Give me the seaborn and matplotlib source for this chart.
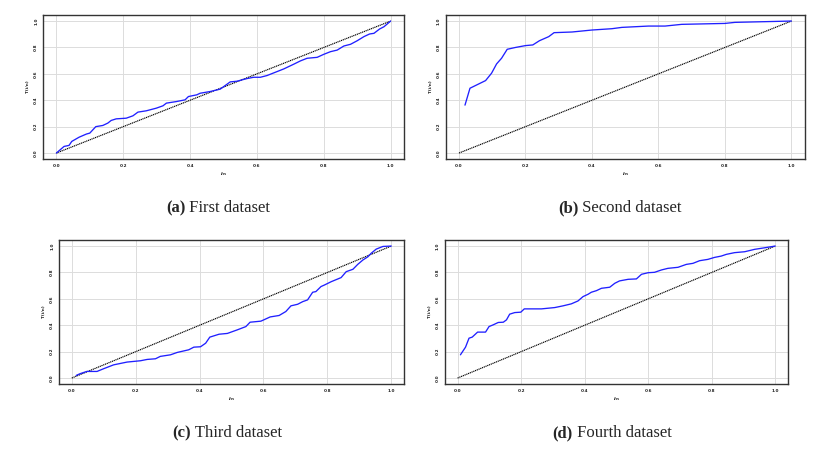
import matplotlib
matplotlib.use("Agg")
import matplotlib.pyplot as plt
import seaborn as sns
import pandas as pd

sns.set_theme(style="whitegrid")

# ---- data ----
a_x = [0, 0.023, 0.038, 0.046, 0.068, 0.09, 0.10, 0.118, 0.139, 0.154, 0.164, 0.179, 0.209, 0.229, 0.244,
       0.269, 0.299, 0.319, 0.329, 0.359, 0.385, 0.395, 0.42, 0.43, 0.46, 0.49, 0.52, 0.54, 0.57, 0.59, 0.61,
       0.63, 0.66, 0.68, 0.71, 0.73, 0.75, 0.78, 0.80, 0.82, 0.84, 0.86, 0.88, 0.90, 0.92, 0.937, 0.95, 0.967,
       0.98, 1.0]
a_y = [0, 0.05, 0.058, 0.088, 0.12, 0.144, 0.151, 0.20, 0.209, 0.227, 0.247, 0.259, 0.264, 0.282, 0.31,
       0.32, 0.34, 0.358, 0.378, 0.39, 0.403, 0.428, 0.441, 0.453, 0.466, 0.484, 0.539, 0.544, 0.564, 0.574,
       0.574, 0.587, 0.617, 0.637, 0.673, 0.698, 0.718, 0.725, 0.748, 0.768, 0.78, 0.811, 0.824, 0.851, 0.882,
       0.902, 0.907, 0.94, 0.957, 1.0]

b_x = [0.018, 0.033, 0.08, 0.098, 0.113, 0.128, 0.145, 0.17, 0.20, 0.222, 0.242, 0.27, 0.286, 0.34, 0.40,
       0.46, 0.49, 0.57, 0.62, 0.67, 0.80, 0.83, 1.0]
b_y = [0.363, 0.491, 0.549, 0.605, 0.675, 0.718, 0.786, 0.80, 0.814, 0.819, 0.851, 0.882, 0.912, 0.917,
       0.932, 0.942, 0.952, 0.962, 0.962, 0.975, 0.982, 0.99, 1.0]

c_x = [0.014, 0.026, 0.047, 0.079, 0.099, 0.131, 0.173, 0.215, 0.236, 0.262, 0.277, 0.309, 0.33, 0.366,
       0.382, 0.403, 0.419, 0.432, 0.461, 0.487, 0.518, 0.545, 0.558, 0.592, 0.621, 0.649, 0.67, 0.686, 0.707,
       0.723, 0.738, 0.754, 0.764, 0.78, 0.791, 0.812, 0.843, 0.859, 0.88, 0.895, 0.911, 0.927, 0.937, 0.953,
       0.974, 1.0]
c_y = [0.02, 0.033, 0.05, 0.05, 0.07, 0.10, 0.121, 0.131, 0.141, 0.146, 0.164, 0.176, 0.194, 0.214, 0.234,
       0.237, 0.264, 0.31, 0.332, 0.338, 0.365, 0.39, 0.423, 0.431, 0.463, 0.474, 0.504, 0.547, 0.559, 0.579,
       0.592, 0.65, 0.655, 0.693, 0.705, 0.73, 0.761, 0.806, 0.824, 0.861, 0.894, 0.919, 0.945, 0.977, 0.997,
       1.0]

d_x = [0.009, 0.025, 0.036, 0.046, 0.063, 0.088, 0.099, 0.112, 0.128, 0.144, 0.154, 0.164, 0.18, 0.199,
       0.21, 0.264, 0.306, 0.332, 0.358, 0.379, 0.395, 0.411, 0.421, 0.437, 0.453, 0.479, 0.495, 0.51, 0.537,
       0.563, 0.579, 0.60, 0.62, 0.642, 0.662, 0.694, 0.72, 0.741, 0.762, 0.788, 0.809, 0.83, 0.846, 0.872,
       0.904, 0.935, 0.967, 1.0]
d_y = [0.176, 0.234, 0.302, 0.31, 0.348, 0.348, 0.39, 0.403, 0.421, 0.423, 0.441, 0.484, 0.496, 0.499,
       0.524, 0.524, 0.534, 0.547, 0.562, 0.584, 0.617, 0.635, 0.65, 0.662, 0.68, 0.688, 0.718, 0.736, 0.748,
       0.751, 0.786, 0.798, 0.801, 0.819, 0.831, 0.839, 0.861, 0.869, 0.889, 0.899, 0.914, 0.924, 0.937, 0.95,
       0.957, 0.975, 0.987, 1.0]

diag = [0.0, 1.0]
tick_vals = [0.0, 0.2, 0.4, 0.6, 0.8, 1.0]
tick_labels = ["0.0", "0.2", "0.4", "0.6", "0.8", "1.0"]
captions = [("(a)", " First dataset"), ("(b)", " Second dataset"),
            ("(c)", " Third dataset"), ("(d)", " Fourth dataset")]
xlabel = "i/n"
ylabel = "T(i/n)"

panels = [(a_x, a_y), (b_x, b_y), (c_x, c_y), (d_x, d_y)]
rects = [[0.0518, 0.6475, 0.435, 0.319],
         [0.537, 0.6475, 0.4325, 0.319],
         [0.0711, 0.1486, 0.4157, 0.319],
         [0.536, 0.1486, 0.4133, 0.319]]
# caption centre x and baseline y (fig fraction)
cap_pos = [(218 / 830, 1 - 212 / 451), (620 / 830, 1 - 212 / 451),
           (227 / 830, 1 - 437 / 451), (612 / 830, 1 - 437 / 451)]

fig = plt.figure(figsize=(8.3, 4.51), dpi=100)

for (px, py), rect in zip(panels, rects):
    ax = fig.add_axes(rect)
    df = pd.DataFrame({"x": px, "y": py})
    dd = pd.DataFrame({"x": diag, "y": diag})
    sns.lineplot(data=dd, x="x", y="y", ax=ax, color="black", linewidth=0.85,
                 linestyle=(0, (1, 0.6)), sort=False)
    sns.lineplot(data=df, x="x", y="y", ax=ax, color="#2020ff", linewidth=0.95, sort=False)
    ax.set_xlim(-0.04, 1.04)
    ax.set_ylim(-0.045, 1.045)
    ax.set_xticks(tick_vals)
    ax.set_xticklabels(tick_labels, fontsize=3, fontweight="bold")
    ax.set_yticks(tick_vals)
    ax.set_yticklabels(tick_labels, fontsize=3, fontweight="bold", rotation=90, va="center")
    ax.tick_params(axis="both", length=2, width=0.5, pad=1.5, colors="#222222")
    ax.set_xlabel(xlabel, fontsize=3, fontweight="bold", labelpad=3)
    ax.set_ylabel(ylabel, fontsize=3, fontweight="bold", labelpad=3)
    ax.grid(True, color="#dcdcdc", linewidth=0.7)
    ax.set_facecolor("white")
    for s in ax.spines.values():
        s.set_color("#333333")
        s.set_linewidth(1.0)

# captions with bold label part, aligned on a common baseline
fig.canvas.draw()
renderer = fig.canvas.get_renderer()
for (lab, txt), (cx, cy) in zip(captions, cap_pos):
    tb = fig.text(0, 0, lab, fontsize=12, family="Liberation Serif", fontweight="bold",
                  va="baseline")
    tn = fig.text(0, 0, txt, fontsize=12, family="Liberation Serif", va="baseline")
    wb = tb.get_window_extent(renderer).width / fig.bbox.width
    wn = tn.get_window_extent(renderer).width / fig.bbox.width
    x0 = cx - (wb + wn) / 2
    tb.set_position((x0, cy))
    tn.set_position((x0 + wb, cy))

fig.savefig("out.png", dpi=100, facecolor="white")
